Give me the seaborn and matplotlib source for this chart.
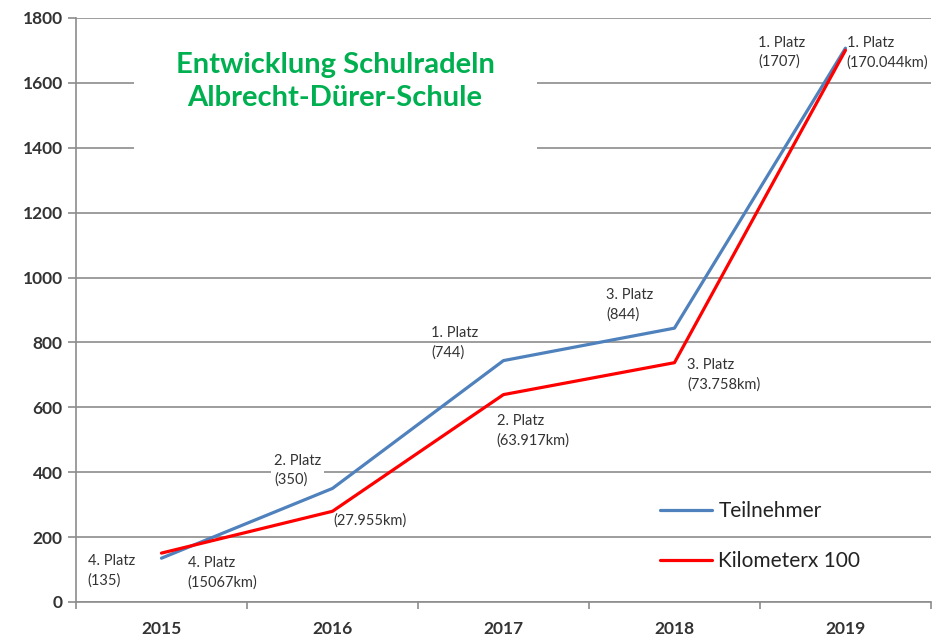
import pandas as pd
import numpy as np
import matplotlib
matplotlib.use("Agg")
import matplotlib.pyplot as plt
from matplotlib.patches import Rectangle
import seaborn as sns

years = ["2015", "2016", "2017", "2018", "2019"]
teilnehmer = [135, 350, 744, 844, 1707]
kilometer_x100 = [150.67, 279.55, 639.17, 737.58, 1700.44]
series_names = ["Teilnehmer", "Kilometerx 100"]

labels_teil = ["4. Platz\n(135)", "2. Platz\n(350)", "1. Platz\n(744)", "3. Platz\n(844)", "1. Platz\n(1707)"]
labels_km = ["4. Platz\n(15067km)", "(27.955km)", "2. Platz\n(63.917km)", "3. Platz\n(73.758km)", "1. Platz\n(170.044km)"]
# label offsets in points (text left edge / vertical centre relative to the point)
offs_teil = [(-53, -9), (-42, 13), (-52, 13), (-49, 17), (-63, -3)]
offs_km = [(19, -14), (1, -6.5), (-5, -26), (9, -9), (1, -2)]

df = pd.DataFrame({
    "Jahr": years * 2,
    "Wert": teilnehmer + kilometer_x100,
    "Serie": [series_names[0]] * 5 + [series_names[1]] * 5,
})

sns.set_style("white")
plt.rcParams["font.family"] = ["Lato", "DejaVu Sans"]

fig = plt.figure(figsize=(9.46, 6.4), dpi=100)
ax = fig.add_axes([0.0803, 0.0594, 0.9038, 0.9125])

sns.lineplot(data=df, x="Jahr", y="Wert", hue="Serie", ax=ax,
             palette=["#4F81BD", "#FF0000"], linewidth=2.3, sort=False, zorder=3)

ax.set_xlim(-0.5, 4.5)
ax.set_ylim(0, 1800)
ax.set_yticks(range(0, 1801, 200))
ax.set_xticks(range(5))
ax.set_xticklabels(years)
ax.set_xticks(np.arange(-0.5, 5, 1), minor=True)
ax.set_xlabel("")
ax.set_ylabel("")

ax.grid(axis="y", color="#8c8c8c", linewidth=1.2, zorder=0)
ax.set_axisbelow(True)
for s in ["top", "right"]:
    ax.spines[s].set_visible(False)
for s in ["left", "bottom"]:
    ax.spines[s].set_color("#8c8c8c")
    ax.spines[s].set_linewidth(1.2)

ax.tick_params(axis="y", which="major", direction="out", length=5.5, width=1.2,
               color="#8c8c8c", left=True, labelsize=12.5, labelcolor="#333333", pad=4)
ax.tick_params(axis="x", which="major", length=0, labelsize=12.5, labelcolor="#333333", pad=14)
ax.tick_params(axis="x", which="minor", direction="out", length=5, width=1.2,
               color="#8c8c8c", bottom=True)
for t in ax.get_xticklabels() + ax.get_yticklabels():
    t.set_fontweight("bold")

# title box covering the gridlines
ax.add_patch(Rectangle((0.068, 0.771), 0.471, 0.2, transform=ax.transAxes,
                       facecolor="white", edgecolor="none", zorder=1))
ax.text(0.303, 0.891, "Entwicklung Schulradeln\nAlbrecht-Dürer-Schule",
        transform=ax.transAxes, ha="center", va="center", fontsize=21,
        fontweight="bold", color="#00B050", linespacing=1.3, zorder=2)

for i in range(5):
    bb = dict(facecolor="white", edgecolor="none", pad=2) if i == 1 else None
    ax.annotate(labels_teil[i], xy=(i, teilnehmer[i]), xytext=offs_teil[i],
                textcoords="offset points", ha="left", va="center",
                fontsize=10.5, color="#333333", linespacing=1.45, zorder=4, bbox=bb)
    ax.annotate(labels_km[i], xy=(i, kilometer_x100[i]), xytext=offs_km[i],
                textcoords="offset points", ha="left", va="center",
                fontsize=10.5, color="#333333", linespacing=1.45, zorder=4)

leg = ax.legend(loc="center left", bbox_to_anchor=(0.683, 0.113), frameon=False,
                fontsize=15, handlelength=2.5, handletextpad=0.3, labelspacing=1.45,
                borderaxespad=0, borderpad=0)
for t in leg.get_texts():
    t.set_color("#222222")
for h in leg.get_lines():
    h.set_linewidth(2.3)

fig.savefig("out.png", dpi=100)
